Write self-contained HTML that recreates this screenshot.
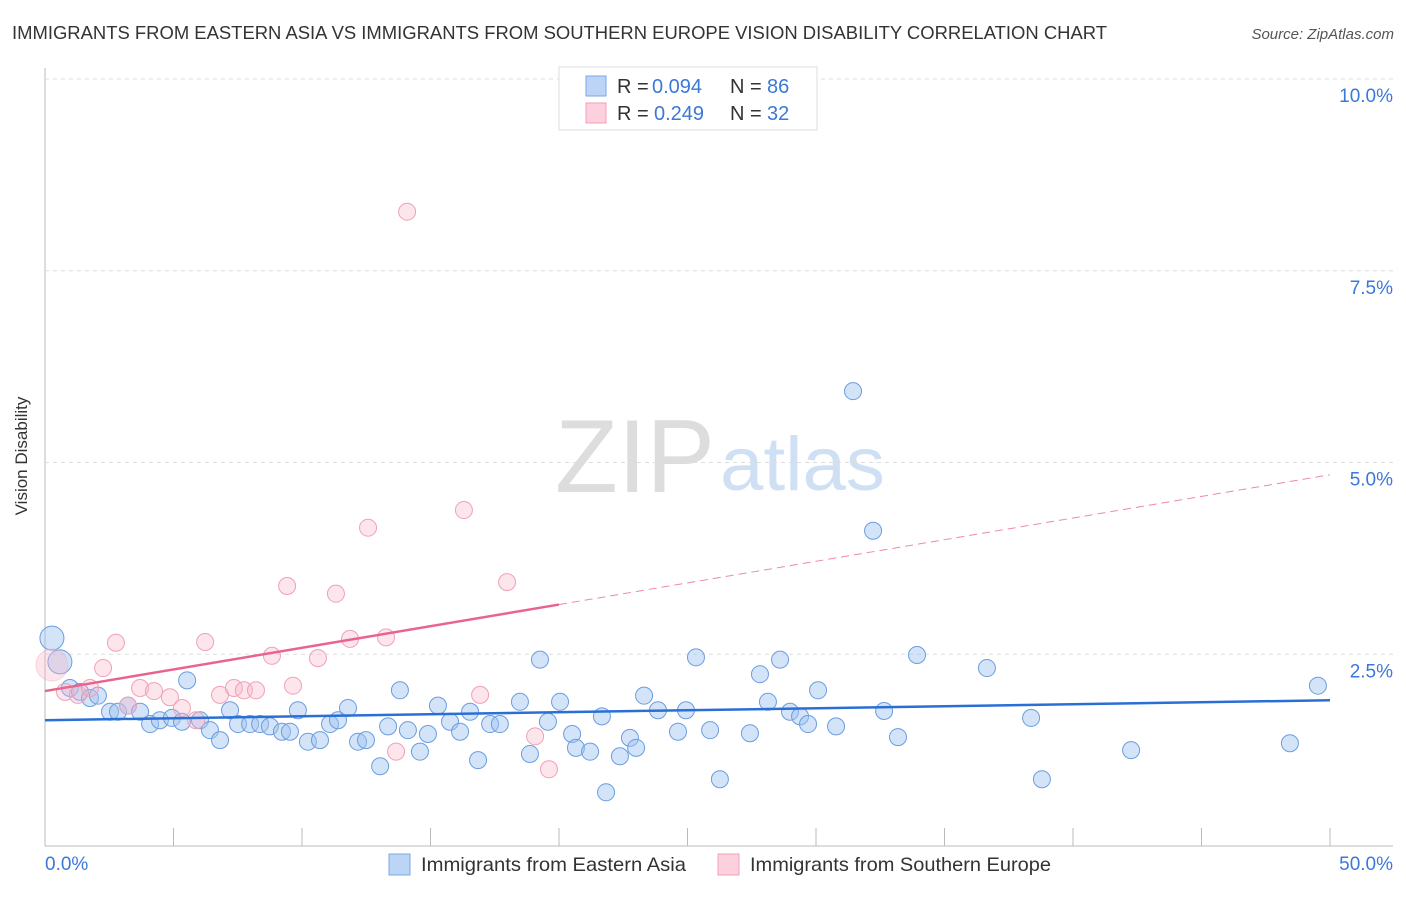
<!DOCTYPE html>
<html><head><meta charset="utf-8"><style>
body{margin:0;background:#fff;font-family:"Liberation Sans",sans-serif}
svg text{font-family:"Liberation Sans",sans-serif}
</style></head><body>
<svg id="c" width="1406" height="892">
<text x="12" y="39" font-size="18" fill="#333" textLength="1095" lengthAdjust="spacingAndGlyphs">IMMIGRANTS FROM EASTERN ASIA VS IMMIGRANTS FROM SOUTHERN EUROPE VISION DISABILITY CORRELATION CHART</text>
<text x="1394" y="39" font-size="15" fill="#555" font-style="italic" text-anchor="end">Source: ZipAtlas.com</text>
<text x="27" y="456" font-size="17" fill="#333" text-anchor="middle" transform="rotate(-90 27 456)">Vision Disability</text>
<g><text x="555" y="492" font-size="104" fill="#ddd" font-family="Liberation Serif" textLength="160" lengthAdjust="spacingAndGlyphs">ZIP</text><text x="720" y="490" font-size="76" fill="#cfe0f5" textLength="165" lengthAdjust="spacingAndGlyphs">atlas</text></g>
<g id="grid"></g><g id="pts"></g><g id="lines"></g>
<g>
<rect x="559" y="67" width="258" height="63" fill="#fff" stroke="#ddd"/>
<rect x="586" y="76" width="20" height="20" fill="#bcd4f5" stroke="#7aa8e6"/>
<rect x="586" y="103" width="20" height="20" fill="#fcd0dd" stroke="#f0a0b8"/>
<text x="617" y="93" font-size="20" fill="#333">R =</text><text x="652" y="93" font-size="20" fill="#3b78d8">0.094</text>
<text x="730" y="93" font-size="20" fill="#333">N =</text><text x="767" y="93" font-size="20" fill="#3b78d8">86</text>
<text x="617" y="120" font-size="20" fill="#333">R =</text><text x="654" y="120" font-size="20" fill="#3b78d8">0.249</text>
<text x="730" y="120" font-size="20" fill="#333">N =</text><text x="767" y="120" font-size="20" fill="#3b78d8">32</text>
</g>
<g>
<rect x="389" y="854" width="21" height="21" fill="#bcd4f5" stroke="#7aa8e6"/>
<text x="421" y="871" font-size="19.5" fill="#333" textLength="265" lengthAdjust="spacingAndGlyphs">Immigrants from Eastern Asia</text>
<rect x="718" y="854" width="21" height="21" fill="#fcd0dd" stroke="#f0a0b8"/>
<text x="750" y="871" font-size="19.5" fill="#333" textLength="301" lengthAdjust="spacingAndGlyphs">Immigrants from Southern Europe</text>
</g>
</svg>
<script>
const blueX=[0.27,0.58,0.97,1.36,1.75,2.06,2.53,2.84,3.23,3.70,4.09,4.47,4.94,5.33,5.53,6.03,6.42,6.81,7.20,7.51,7.98,8.37,8.75,9.22,9.53,9.84,10.23,10.70,11.09,11.40,11.79,12.18,12.49,13.04,13.35,13.81,14.12,14.59,14.90,15.29,15.76,16.15,16.54,16.85,17.32,17.70,18.48,18.87,19.26,19.57,20.04,20.51,20.66,21.21,21.83,21.67,22.37,22.76,23.00,23.31,23.85,24.63,24.94,25.33,25.88,26.26,27.43,27.82,28.13,28.60,28.99,29.38,29.69,30.08,30.78,31.44,32.22,32.65,33.19,33.93,36.65,38.37,38.79,42.26,48.44,49.53];
const blueY=[2.71,2.40,2.06,2.01,1.93,1.96,1.75,1.75,1.83,1.75,1.59,1.64,1.67,1.62,2.16,1.64,1.51,1.38,1.77,1.59,1.59,1.59,1.56,1.49,1.49,1.77,1.36,1.38,1.59,1.64,1.80,1.36,1.38,1.04,1.56,2.03,1.51,1.23,1.46,1.83,1.62,1.49,1.75,1.12,1.59,1.59,1.88,1.20,2.43,1.62,1.88,1.46,1.28,1.23,0.70,1.69,1.17,1.41,1.28,1.96,1.77,1.49,1.77,2.46,1.51,0.87,1.47,2.24,1.88,2.43,1.75,1.69,1.59,2.03,1.56,5.93,4.11,1.76,1.42,2.49,2.32,1.67,0.87,1.25,1.34,2.09];
const pinkX=[0.27,0.78,1.28,1.75,2.26,2.76,3.23,3.70,4.24,4.86,5.33,5.88,6.23,6.81,7.35,7.74,8.21,8.83,9.42,9.65,10.62,11.32,11.87,12.57,13.27,13.66,14.09,16.30,16.93,17.98,19.07,19.61];
const pinkY=[2.36,2.01,1.97,2.06,2.32,2.65,1.83,2.06,2.02,1.94,1.80,1.64,2.66,1.97,2.06,2.03,2.03,2.48,3.39,2.09,2.45,3.29,2.70,4.15,2.72,1.23,8.27,4.38,1.97,3.44,1.43,1.00];
const blueTrend=[1.64,1.90];
const pinkTrend=[2.02,4.84];
const yTicks=[2.5,5,7.5,10];
const xTicks=[0,5,10,15,20,25,30,35,40,45,50];
const X=v=>45+v*25.7, Y=v=>846-v*76.7;
const NS="http://www.w3.org/2000/svg";
function mk(t,a,p){const e=document.createElementNS(NS,t);for(const k in a)e.setAttribute(k,a[k]);p.appendChild(e);return e;}
const g=document.getElementById('grid');
let ax=mk('line',{x1:45,y1:68,x2:45,y2:846,stroke:'#bbb'},g);


let bx=mk('line',{x1:45,y1:846,x2:1393,y2:846,stroke:'#bbb'},g);


yTicks.forEach(t=>{
 let l=mk('line',{x1:45,y1:Y(t),x2:1393,y2:Y(t),stroke:'#ddd','stroke-dasharray':'4 4'},g);
 
 
 let tx=mk('text',{x:1393,y:Y(t)+23,'font-size':19,fill:'#3b78d8','text-anchor':'end'},g);
 tx.textContent=t.toFixed(1)+'%';
 
 
});
xTicks.forEach(t=>{
 let l=mk('line',{x1:X(t),y1:828,x2:X(t),y2:846,stroke:'#bbb'},g);
 
 
});
[[0,'start',45],[50,'end',1393]].forEach(([t,a,px])=>{
 let tx=mk('text',{x:px,y:870,'font-size':19,fill:'#3b78d8','text-anchor':a},g);
 tx.textContent=t.toFixed(1)+'%';
 
 
});
const p=document.getElementById('pts');
blueX.forEach((x,i)=>{
 const r=i<2?12:8.5;
 let c=mk('circle',{cx:X(x),cy:Y(blueY[i]),r:r,fill:'rgba(160,195,240,0.45)',stroke:'#6a9de0','stroke-width':1},p);
 
 
});
pinkX.forEach((x,i)=>{
 const r=i==0?16:8.5;
 let c=mk('circle',{cx:X(x),cy:Y(pinkY[i]),r:r,fill:'rgba(248,180,200,0.35)',stroke:i==0?'rgba(240,160,184,0.4)':'#f0a0b8','stroke-width':1},p);
 
 
});
const L=document.getElementById('lines');
let b=mk('line',{x1:X(0),y1:Y(blueTrend[0]),x2:X(50),y2:Y(blueTrend[1]),stroke:'#2a6fd6','stroke-width':2.5},L);


const pAt=v=>pinkTrend[0]+(pinkTrend[1]-pinkTrend[0])*v/50;
let ps=mk('line',{x1:X(0),y1:Y(pAt(0)),x2:X(20),y2:Y(pAt(20)),stroke:'#e8648e','stroke-width':2.5},L);


let pd=mk('line',{x1:X(20),y1:Y(pAt(20)),x2:X(50),y2:Y(pAt(50)),stroke:'#ec8aa8','stroke-width':1,'stroke-dasharray':'8 5'},L);


</script>
</body></html>
